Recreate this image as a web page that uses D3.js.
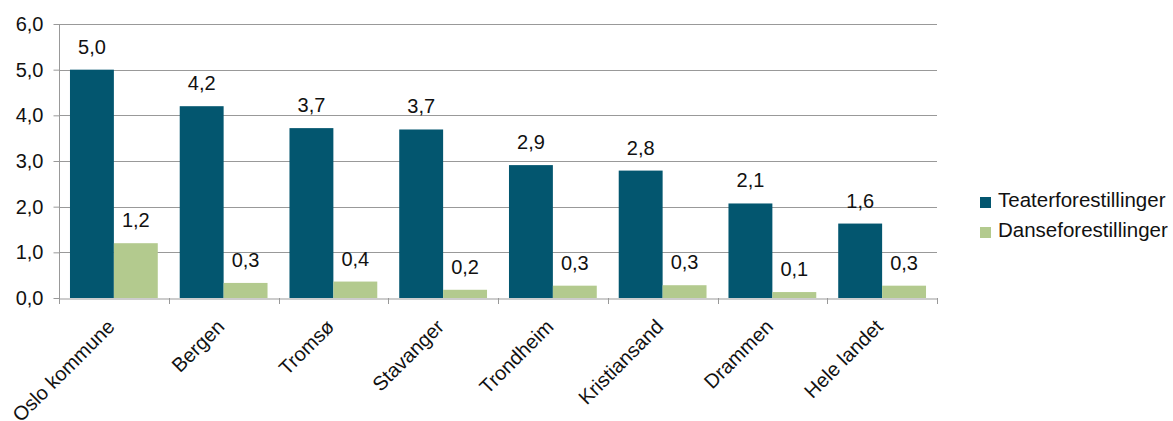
<!DOCTYPE html>
<html><head><meta charset="utf-8">
<script src="https://cdn.jsdelivr.net/npm/d3@7"></script>
<style>body{margin:0;background:#fff;font-family:Arial,"Liberation Sans",sans-serif;}</style>
</head><body><svg id="c" width="1173" height="421"></svg>
<script>
const categories = ["Oslo kommune","Bergen","Tromsø","Stavanger","Trondheim","Kristiansand","Drammen","Hele landet"];
const seriesNames = ["Teaterforestillinger","Danseforestillinger"];
const teater = [5.0, 4.2, 3.72, 3.69, 2.91, 2.79, 2.07, 1.63];
const danse = [1.2, 0.33, 0.36, 0.18, 0.27, 0.28, 0.13, 0.27];
const yTicks = [0,1,2,3,4,5,6];
const colors = ["#03566F","#B3CA8E"];

const FONT = "Arial, 'Liberation Sans', sans-serif";
const FS = 20;
const svg = d3.select("#c");
const m = {left:59, right:1173-937, top:24, bottom:421-298};
const W = 1173, H = 421;
const x0 = d3.scaleBand().domain(categories).range([m.left, W-m.right]).padding(0);
const x1 = d3.scaleBand().domain(seriesNames).range([0, x0.bandwidth()]).paddingInner(0).paddingOuter(0.25);
const y = d3.scaleLinear().domain([0,6]).range([H-m.bottom, m.top]);
const fmt = v => d3.format(".1f")(v).replace(".", ",");

// gridlines
svg.append("g").selectAll("line").data(yTicks.filter(d=>d>0)).join("line")
  .attr("x1", m.left).attr("x2", W-m.right)
  .attr("y1", d=>Math.round(y(d))+0.5).attr("y2", d=>Math.round(y(d))+0.5)
  .attr("stroke","#999").attr("stroke-width",1);

// y axis
const ya = svg.append("g").attr("transform",`translate(${m.left+0.5},0)`)
  .call(d3.axisLeft(y).tickValues(yTicks).tickFormat(fmt).tickSize(6).tickPadding(10));
ya.select(".domain").attr("stroke","#999").attr("d",`M0,${y(6)}V${y(0)}`);
ya.selectAll(".tick line").attr("stroke","#999");
ya.selectAll(".tick text").attr("font-size",FS).attr("fill","#111").attr("font-family",FONT);

// bars
const data = categories.map((c,i)=>({c, vals:[{s:seriesNames[0],v:teater[i]},{s:seriesNames[1],v:danse[i]}]}));
const g = svg.append("g").selectAll("g").data(data).join("g")
  .attr("transform", d=>`translate(${x0(d.c)},0)`);
g.selectAll("rect").data(d=>d.vals).join("rect")
  .attr("x", d=>x1(d.s)).attr("width", x1.bandwidth())
  .attr("y", d=>y(d.v)).attr("height", d=>y(0)-y(d.v))
  .attr("fill", (d,i)=>colors[i]);
g.selectAll("text").data(d=>d.vals).join("text")
  .attr("x", d=>x1(d.s)+x1.bandwidth()/2).attr("y", d=>y(d.v)-16)
  .attr("text-anchor","middle").attr("font-size",FS).attr("fill","#111").attr("font-family",FONT)
  .text(d=>fmt(d.v));

// x axis
const xa = svg.append("g").attr("transform",`translate(0,${Math.round(y(0))+0.5})`)
  .call(d3.axisBottom(x0).tickSize(0).tickFormat(""));
xa.select(".domain").attr("stroke","#999");
svg.append("g").selectAll("line").data(d3.range(categories.length+1)).join("line")
  .attr("x1", i=>Math.round(m.left + i*x0.step())+0.5).attr("x2", i=>Math.round(m.left + i*x0.step())+0.5)
  .attr("y1", y(0)).attr("y2", y(0)+6).attr("stroke","#999");
svg.append("g").selectAll("text").data(categories).join("text")
  .attr("transform", d=>`translate(${x0(d)+x0.bandwidth()/2+2},${y(0)+30}) rotate(-45)`)
  .attr("text-anchor","end").attr("font-size",FS).attr("fill","#111").attr("font-family",FONT)
  .text(d=>d);

// legend
const lg = svg.append("g").selectAll("g").data(seriesNames).join("g")
  .attr("transform",(d,i)=>`translate(980,${197+i*30})`);
lg.append("rect").attr("width",11).attr("height",11).attr("fill",(d,i)=>colors[i]);
lg.append("text").attr("x",18).attr("y",10).attr("font-size",20.5).attr("fill","#111").attr("font-family",FONT).text(d=>d);
</script></body></html>
